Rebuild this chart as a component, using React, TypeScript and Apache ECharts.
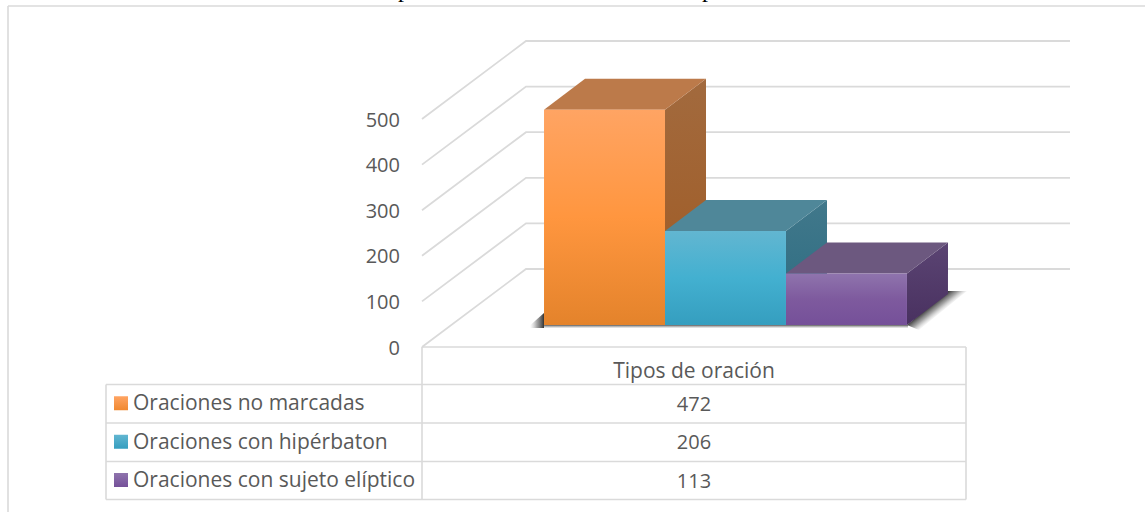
import React, { useEffect, useRef } from "react";
import * as echarts from "echarts";

const category = ["Tipos de oración"];
const seriesNames = ["Oraciones no marcadas", "Oraciones con hipérbaton", "Oraciones con sujeto elíptico"];
const seriesValues = [472, 206, 113];
const yTicks = [0, 100, 200, 300, 400, 500];
const captionFragments = ["p", "p"];

type Pal = { front: string[]; top: string; side: string[]; key: string[] };
const palettes: Pal[] = [
  { front: ["#FFA463", "#FF963F", "#E4832B"], top: "#BC7A4A", side: ["#A26A3E", "#A05A22"], key: ["#FFA463", "#F0882F"] },
  { front: ["#62B6D1", "#43B0D0", "#359EBF"], top: "#4F8799", side: ["#41788B", "#2C6C81"], key: ["#62B6D1", "#359EBF"] },
  { front: ["#8F74AD", "#7E5A9E", "#755099"], top: "#6C587F", side: ["#5B4473", "#493160"], key: ["#8F74AD", "#755099"] },
];

const FONT = "'Open Sans', 'Noto Sans', sans-serif";
const TEXT = "#595959";
const LINE = "#DADADA";
const DX = 41;
const DY = -31;
const WALL_DX = 104;
const WALL_DY = -78;
const WALL_W = 544;

const vGrad = (c: string[]) =>
  new echarts.graphic.LinearGradient(
    0, 0, 0, 1,
    c.map((color, i) => ({ offset: i / (c.length - 1), color }))
  );

const fade = (x: number, y: number, x2: number, y2: number, from = "rgba(40,40,40,0.95)") =>
  new echarts.graphic.LinearGradient(
    x, y, x2, y2,
    [
      { offset: 0, color: from },
      { offset: 0.5, color: "rgba(90,90,90,0.55)" },
      { offset: 1, color: "rgba(160,160,160,0)" },
    ],
    true
  );

export default function App() {
  const ref = useRef<HTMLDivElement>(null);
  useEffect(() => {
    document.body.style.margin = "0";
    const chart = echarts.init(ref.current!, null, { renderer: "svg" });

    const gridLines = {
      type: "custom",
      silent: true,
      z: 1,
      data: yTicks.map((t) => [0, t]),
      encode: { x: 0, y: 1 },
      renderItem: (_p: any, api: any) => {
        const [x0, y] = api.coord([0, api.value(1)]);
        const left = x0 - api.size([1, 0])[0] / 2;
        const bx = left + WALL_DX;
        const by = y + WALL_DY;
        return {
          type: "polyline",
          shape: { points: [[left, y], [bx, by], [bx + WALL_W, by]] },
          style: { stroke: LINE, lineWidth: 1.8, fill: "none" },
        };
      },
    };

    const barSeries = seriesNames.map((name, i) => ({
      type: "custom",
      name,
      silent: true,
      z: 3 + i,
      data: [[0, seriesValues[i]]],
      encode: { x: 0, y: 1 },
      renderItem: (_p: any, api: any) => {
        const bandW = api.size([1, 0])[0];
        const [cx, y0] = api.coord([0, 0]);
        const vy = api.coord([0, api.value(1)])[1];
        const left = cx - bandW / 2;
        const w = bandW * 0.2224;
        const x1 = left + bandW * 0.2243 + i * w;
        const x2 = x1 + w;
        const bottom = y0 - 22;
        const top = vy - 22;
        const p = palettes[i];
        return {
          type: "group",
          children: [
            {
              type: "polygon",
              shape: { points: [[x2, bottom], [x2 + DX, bottom + DY], [x2 + DX, top + DY], [x2, top]] },
              style: { fill: vGrad(p.side) },
            },
            {
              type: "polygon",
              shape: { points: [[x1, top], [x1 + DX, top + DY], [x2 + DX, top + DY], [x2, top]] },
              style: { fill: p.top },
            },
            { type: "rect", shape: { x: x1, y: top, width: w, height: bottom - top }, style: { fill: vGrad(p.front) } },
          ],
        };
      },
    }));

    const shadowSeries = {
      type: "custom",
      silent: true,
      z: 2,
      data: [[0, 0]],
      encode: { x: 0, y: 1 },
      renderItem: (_p: any, api: any) => {
        const bandW = api.size([1, 0])[0];
        const [cx, y0] = api.coord([0, 0]);
        const left = cx - bandW / 2;
        const b = y0 - 22;
        const x1 = left + bandW * 0.2243;
        const x2 = x1 + bandW * 0.2224 * 3;
        return {
          type: "group",
          children: [
            {
              type: "polygon",
              shape: { points: [[x2, b], [x2 + DX, b + DY - 3], [x2 + DX + 19, b + DY - 3], [x2 + 12, b + 5]] },
              style: { fill: fade(x2 + 20, b - 17, x2 + 28, b - 7) },
            },
            {
              type: "polygon",
              shape: { points: [[x1, b - 12], [x1, b + 3], [x1 - 17, b + 3]] },
              style: { fill: fade(x1, b - 2, x1 - 14, b - 2) },
            },
            {
              type: "rect",
              shape: { x: x1, y: b, width: x2 - x1 + 1, height: 3 },
              style: {
                fill: new echarts.graphic.LinearGradient(0, 0, 0, 1, [
                  { offset: 0, color: "rgba(70,70,70,0.9)" },
                  { offset: 1, color: "rgba(170,170,170,0.2)" },
                ]),
              },
            },
          ],
        };
      },
    };

    const tblLeft = 106, tblSplit = 422, tblRight = 966, tblHead = 347;
    const rowY = [384.5, 423, 461.5, 499.5];
    const valCx = (tblSplit + tblRight) / 2;
    const line = (x1: number, y1: number, x2: number, y2: number, w = 1.6) => ({
      type: "line",
      silent: true,
      shape: { x1, y1, x2, y2 },
      style: { stroke: LINE, lineWidth: w },
    });
    const elements: any[] = [
      line(8, 6, 1145, 6),
      line(8, 6, 8, 512),
      line(tblLeft, rowY[0], tblRight, rowY[0]),
      line(tblLeft, rowY[1], tblRight, rowY[1]),
      line(tblLeft, rowY[2], tblRight, rowY[2]),
      line(tblLeft, rowY[3], tblRight, rowY[3]),
      line(tblSplit, tblHead, tblRight, tblHead),
      line(tblLeft, rowY[0], tblLeft, rowY[3]),
      line(tblSplit, tblHead, tblSplit, rowY[3]),
      line(tblRight, tblHead, tblRight, rowY[3]),
    ];
    [398, 702].forEach((x, i) => {
      elements.push({
        type: "text",
        silent: true,
        x,
        y: 1,
        style: {
          text: captionFragments[i],
          font: "24px 'Liberation Serif', serif",
          fill: "#000000",
          textVerticalAlign: "bottom",
          textAlign: "left",
        },
        originY: 0,
        top: undefined,
      });
    });
    seriesNames.forEach((name, i) => {
      const cy = (rowY[i] + rowY[i + 1]) / 2 - 1.5;
      elements.push({
        type: "rect",
        silent: true,
        shape: { x: 114, y: cy - 6, width: 14, height: 14 },
        style: { fill: vGrad(palettes[i].key) },
      });
      elements.push({
        type: "text",
        silent: true,
        x: 133,
        y: cy,
        style: { text: name, font: `21px ${FONT}`, fill: TEXT, textVerticalAlign: "middle", textAlign: "left" },
      });
      elements.push({
        type: "text",
        silent: true,
        x: valCx,
        y: cy + 1,
        style: { text: String(seriesValues[i]), font: `20px ${FONT}`, fill: TEXT, textVerticalAlign: "middle", textAlign: "center" },
      });
    });

    chart.setOption({
      animation: false,
      backgroundColor: "#ffffff",
      grid: { left: 422, width: 544, top: 119, height: 228 },
      xAxis: {
        type: "category",
        data: category,
        axisLine: { show: false },
        axisTick: { show: false },
        axisLabel: { color: TEXT, fontFamily: FONT, fontSize: 21, margin: 12 },
      },
      yAxis: {
        type: "value",
        min: 0,
        max: 500,
        interval: 100,
        axisLine: { show: false },
        axisTick: { show: false },
        splitLine: { show: false },
        axisLabel: { color: TEXT, fontFamily: FONT, fontSize: 20, margin: 22 },
      },
      series: [gridLines, shadowSeries, ...barSeries],
      graphic: { elements },
    });
    return () => chart.dispose();
  }, []);
  return <div ref={ref} style={{ position: "absolute", left: 0, top: 0, width: 1145, height: 512 }} />;
}
